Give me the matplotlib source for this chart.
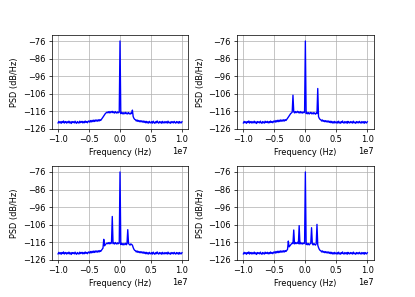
import numpy as np
import matplotlib
matplotlib.use("Agg")
import matplotlib.pyplot as plt

# frequency grid (Hz), 161 bins from -10 MHz to +10 MHz
freqs = np.linspace(-1e7, 1e7, 161)

# noise floor (dB/Hz)
floor_psd = [
    -122.6, -121.7, -122.5, -121.9, -122.8, -121.8, -122.4, -121.5, -122.7, -122.0,
    -121.8, -122.7, -121.9, -122.5, -121.6, -122.6, -122.0, -122.9, -121.8, -122.4,
    -121.9, -122.6, -121.6, -122.5, -122.8, -121.8, -122.3, -122.7, -121.6, -122.4,
    -122.1, -121.7, -122.6, -121.9, -122.5, -121.5, -122.3, -121.8, -122.5, -121.6,
    -121.5, -122.2, -121.2, -122.0, -121.1, -121.9, -121.0, -121.8, -120.9, -121.6,
    -120.9, -121.6, -120.8, -121.5, -120.7, -121.2, -120.6, -120.0, -119.3, -118.6,
    -118.0, -117.3, -116.9, -116.5, -116.8, -116.2, -116.9, -116.1, -116.8, -116.3,
    -116.0, -116.8, -116.3, -117.0, -116.1, -116.7, -117.0, -116.3, -116.8, -116.5,
    -116.8, -117.3, -116.6, -117.4, -116.7, -117.5, -116.9, -116.6, -117.4, -116.9,
    -117.5, -116.7, -117.2, -117.6, -116.9, -117.3, -117.6, -119.0, -120.0, -120.6,
    -120.8, -121.5, -120.9, -121.7, -121.2, -121.9, -121.3, -122.0, -121.4, -122.1,
    -121.5, -122.3, -121.6, -122.5, -121.7, -122.6, -121.9, -122.7, -121.7, -122.4,
    -122.6, -121.8, -122.7, -121.6, -122.4, -122.8, -121.9, -122.5, -121.5, -122.4,
    -122.7, -121.8, -122.5, -121.9, -122.8, -121.7, -122.4, -122.6, -121.8, -122.5,
    -121.9, -122.7, -121.6, -122.5, -122.2, -122.8, -121.8, -122.5, -121.9, -122.6,
    -121.7, -122.4, -122.7, -121.8, -122.5, -121.9, -122.8, -121.8, -122.4, -122.6,
    -121.9,
]

# spectral lines per panel: (frequency Hz, peak dB/Hz)
spikes_1 = [(0.0, -76.0), (2.0e6, -115.3)]
spikes_2 = [(0.0, -76.0), (-2.0e6, -106.8), (2.0e6, -103.0)]
spikes_3 = [(0.0, -76.0), (-1.25e6, -101.3), (1.25e6, -108.8), (-2.625e6, -114.3)]
spikes_4 = [(0.0, -76.0), (-2.75e6, -115.3), (-1.875e6, -109.0), (-1.0e6, -106.5),
            (1.0e6, -107.7), (1.875e6, -105.8)]

yticks = [-126, -116, -106, -96, -86, -76]
xticks = [-1.0e7, -0.5e7, 0.0, 0.5e7, 1.0e7]

plt.rcParams["font.size"] = 9.2
fig, axes = plt.subplots(2, 2, figsize=(415 / 65, 297 / 65), dpi=65)
fig.subplots_adjust(left=0.125, right=0.9, top=0.882, bottom=0.125,
                    wspace=0.36, hspace=0.395)

for ax, spikes in zip(axes.flat, [spikes_1, spikes_2, spikes_3, spikes_4]):
    psd = np.array(floor_psd)
    for f, p in spikes:
        psd[np.argmin(np.abs(freqs - f))] = p
    ax.plot(freqs, psd, color="b", lw=1.5)
    ax.set_ylim(-126, -72.6)
    ax.set_yticks(yticks)
    ax.set_xticks(xticks)
    ax.set_xlabel("Frequency (Hz)")
    ax.set_ylabel("PSD (dB/Hz)")
    ax.grid(True)

fig.savefig("out.png", dpi=65)
